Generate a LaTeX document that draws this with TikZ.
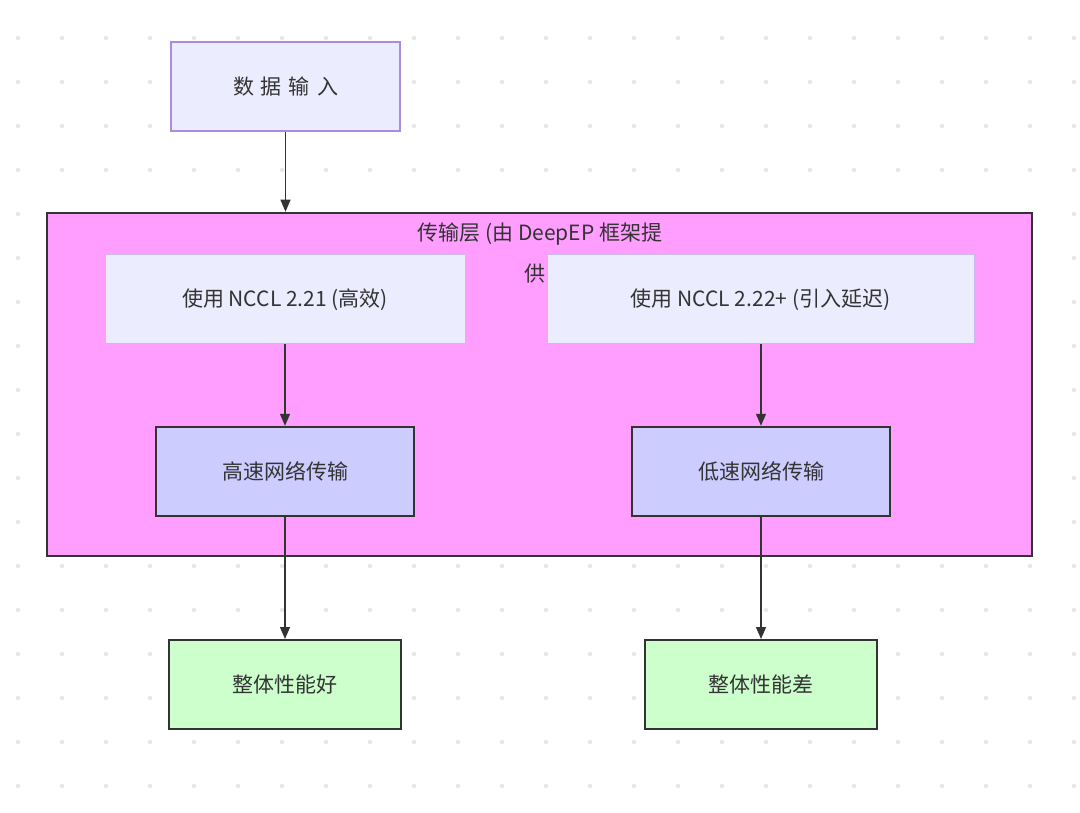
\documentclass[tikz,border=0pt]{standalone}
\usepackage{fontspec}
\setmainfont{Noto Sans CJK SC}
\usetikzlibrary{arrows.meta}
\definecolor{lav}{HTML}{ECECFF}
\definecolor{lavline}{HTML}{A98BE0}
\definecolor{pinkf}{HTML}{FF9EFF}
\definecolor{bluef}{HTML}{CCCCFF}
\definecolor{greenf}{HTML}{CCFFCC}
\definecolor{ink}{HTML}{333333}
\begin{document}
\begin{tikzpicture}[x=1pt,y=-1pt,
  every node/.style={font=\fontsize{21}{25}\selectfont, text=ink},
  box/.style={draw, rectangle, inner sep=0pt},
  arr/.style={draw=ink, line width=1.3pt, -{Triangle[length=12pt,width=10pt]}}]
\useasboundingbox (0,0) rectangle (1080,813);
\fill[white] (0,0) rectangle (1080,813);
\foreach \i in {0,...,24} \foreach \j in {0,...,17}
  \fill[black!9] (18+44*\i,38+44*\j) circle (2.2);
\node[box, fill=lav, draw=lavline, line width=1.3pt, minimum width=229pt, minimum height=89pt] (in) at (285.5,86.5) {数\,\,据\,\,输\,\,入};
\node[box, fill=pinkf, draw=ink, line width=2.6pt, minimum width=985pt, minimum height=343pt] (layer) at (539.5,384.5) {};
\node at (540,234) {传输层 (由 DeepEP 框架提};
\node at (535,274) {供};
\node[box, fill=lav, draw=lavline!60, line width=1pt, minimum width=360pt, minimum height=89pt] (a) at (285,299.5) {使用 NCCL 2.21 (高效)};
\node[box, fill=lav, draw=lavline!60, line width=1pt, minimum width=427pt, minimum height=89pt] (b) at (760.5,299.5) {使用 NCCL 2.22+ (引入延迟)};
\node[box, fill=bluef, draw=ink, line width=2.4pt, minimum width=258pt, minimum height=89pt] (c) at (285,471.5) {高速网络传输};
\node[box, fill=bluef, draw=ink, line width=2.4pt, minimum width=258pt, minimum height=89pt] (d) at (761,471.5) {低速网络传输};
\node[box, fill=greenf, draw=ink, line width=2pt, minimum width=232pt, minimum height=89pt] (e) at (285,684.5) {整体性能好};
\node[box, fill=greenf, draw=ink, line width=2pt, minimum width=232pt, minimum height=89pt] (f) at (761,684.5) {整体性能差};
\draw[arr] (in.south) -- (in.south |- layer.north);
\draw[arr] (a.south) -- (c.north);
\draw[arr] (b.south -| d.north) -- (d.north);
\draw[arr] (c.south) -- (e.north);
\draw[arr] (d.south) -- (f.north);
\end{tikzpicture}
\end{document}
